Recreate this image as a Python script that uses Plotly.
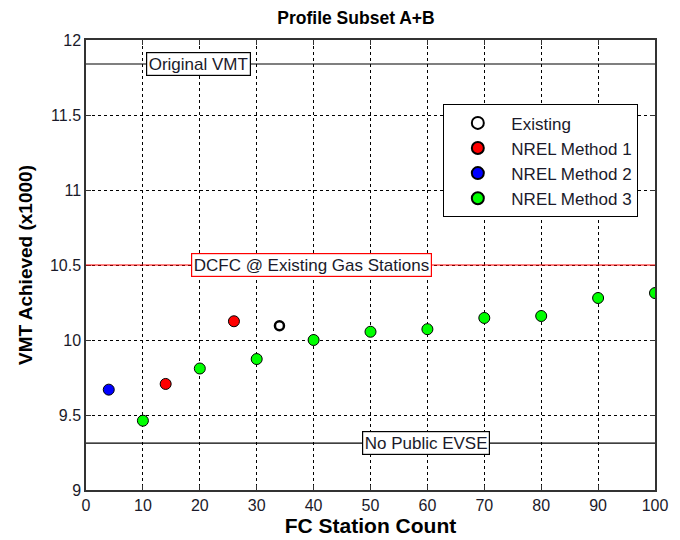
import plotly.graph_objects as go

# Data
existing_x = [34]
existing_y = [10.095]
m1_x = [14, 26]
m1_y = [9.707, 10.125]
m2_x = [4]
m2_y = [9.669]
m3_x = [10, 20, 30, 40, 50, 60, 70, 80, 90, 100]
m3_y = [9.462, 9.81, 9.873, 10.0, 10.055, 10.072, 10.147, 10.16, 10.28, 10.313]

ref_labels = ["Original VMT", "DCFC @ Existing Gas Stations", "No Public EVSE"]
ref_values = [11.84, 10.5, 9.313]
ref_label_x = [19.7, 39.7, 59.7]
ref_colors = ["black", "red", "black"]

x_ticks = [0, 10, 20, 30, 40, 50, 60, 70, 80, 90, 100]
y_ticks = [9, 9.5, 10, 10.5, 11, 11.5, 12]
y_ticktext = ["9", "9.5", "10", "10.5", "11", "11.5", "12"]

FONT = "Liberation Sans, Arial, sans-serif"
TXT = "#1a1a2a"

fig = go.Figure()
fig.add_trace(go.Scatter(x=existing_x, y=existing_y, mode="markers", name="Existing", legendgroup="a",
                         marker=dict(symbol="circle-open", size=9, color="black",
                                     line=dict(width=2.5, color="black"))))
fig.add_trace(go.Scatter(x=m1_x, y=m1_y, mode="markers", name="NREL Method 1", legendgroup="b",
                         marker=dict(size=11, color="#ff0000", line=dict(width=1, color="black"))))
fig.add_trace(go.Scatter(x=m2_x, y=m2_y, mode="markers", name="NREL Method 2", legendgroup="c",
                         marker=dict(size=11, color="#0000ff", line=dict(width=1, color="black"))))
fig.add_trace(go.Scatter(x=m3_x, y=m3_y, mode="markers", name="NREL Method 3", legendgroup="d",
                         marker=dict(size=11, color="#00ff00", line=dict(width=1, color="black"))))

for lab, val, lx, col in zip(ref_labels, ref_values, ref_label_x, ref_colors):
    fig.add_shape(type="line", xref="x domain", yref="y", x0=0, x1=1, y0=val, y1=val,
                  line=dict(color=col, width=1.2), layer="above")
    fig.add_annotation(x=lx, y=val, xref="x", yref="y", text=lab, showarrow=False,
                       font=dict(family=FONT, size=17, color=TXT),
                       bgcolor="white", bordercolor=col, borderwidth=1.2, borderpad=1.5)

axis_common = dict(
    showline=True, linecolor="#333333", linewidth=1.5, mirror="ticks",
    ticks="inside", ticklen=5, tickcolor="#333333",
    showgrid=True, gridcolor="black", gridwidth=1, griddash="3px,3px",
    zeroline=False, automargin=False,
    tickfont=dict(family=FONT, size=16, color=TXT),
)

fig.update_layout(
    width=680, height=540,
    paper_bgcolor="white", plot_bgcolor="white",
    margin=dict(l=86, r=25, t=40, b=50),
    title=dict(text="<b>Profile Subset A+B</b>", xref="paper", x=0.4745, xanchor="center",
               yref="container", y=0.967, yanchor="middle",
               font=dict(family=FONT, size=17.5, color="black")),
    xaxis=dict(range=[0, 100], tickvals=x_ticks,
               title=dict(text="<b>FC Station Count</b>", font=dict(family=FONT, size=21, color="black"),
                          standoff=2),
               **axis_common),
    yaxis=dict(range=[9, 12], tickvals=y_ticks, ticktext=y_ticktext,
               title=dict(text="<b>VMT Achieved (x1000)</b>", font=dict(family=FONT, size=19, color="black"),
                          standoff=12),
               **axis_common),
    legend=dict(x=0.628, y=0.857, xanchor="left", yanchor="top",
                bgcolor="white", bordercolor="black", borderwidth=1,
                font=dict(family=FONT, size=17, color=TXT),
                itemsizing="constant", tracegroupgap=0, itemwidth=57),
    showlegend=True,
)

fig.write_html("out.html", config={"displayModeBar": False},
               post_script="document.body.style.margin='0';document.body.style.padding='0';")
